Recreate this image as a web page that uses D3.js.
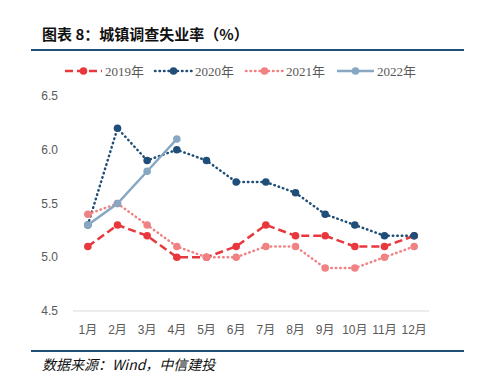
<!DOCTYPE html>
<html>
<head>
<meta charset="utf-8">
<script src="https://cdn.jsdelivr.net/npm/d3@7"></script>
<style>
body { margin: 0; background: #fff; }
</style>
</head>
<body>
<script>
var months = ["1月","2月","3月","4月","5月","6月","7月","8月","9月","10月","11月","12月"];
var y2019 = [5.1, 5.3, 5.2, 5.0, 5.0, 5.1, 5.3, 5.2, 5.2, 5.1, 5.1, 5.2];
var y2020 = [5.3, 6.2, 5.9, 6.0, 5.9, 5.7, 5.7, 5.6, 5.4, 5.3, 5.2, 5.2];
var y2021 = [5.4, 5.5, 5.3, 5.1, 5.0, 5.0, 5.1, 5.1, 4.9, 4.9, 5.0, 5.1];
var y2022 = [5.3, 5.5, 5.8, 6.1];
var yTicks = [4.5, 5.0, 5.5, 6.0, 6.5];

var series = [
	{name: "2019年", values: y2019, color: "#e8383d", width: 2.5, dash: "8,4", dot: false},
	{name: "2020年", values: y2020, color: "#1f4e79", width: 2.5, dash: "0.5,4", dot: true},
	{name: "2021年", values: y2021, color: "#f08284", width: 2.5, dash: "0.5,4", dot: true},
	{name: "2022年", values: y2022, color: "#87a7c3", width: 2.5, dash: null, dot: false}
];

var W = 491, H = 386;
var svg = d3.select("body").append("svg")
	.attr("width", W)
	.attr("height", H);

// title and rules
svg.append("text")
	.attr("x", 42).attr("y", 40)
	.attr("font-family", "Noto Sans CJK SC")
	.attr("font-weight", "bold")
	.attr("font-size", 15)
	.attr("fill", "#111")
	.text("图表 8：城镇调查失业率（%）");

svg.append("line").attr("x1", 31).attr("x2", 464).attr("y1", 50).attr("y2", 50)
	.attr("stroke", "#1f4e79").attr("stroke-width", 2);
svg.append("line").attr("x1", 31).attr("x2", 464).attr("y1", 351).attr("y2", 351)
	.attr("stroke", "#1f4e79").attr("stroke-width", 2);

svg.append("text")
	.attr("x", 42).attr("y", 370)
	.attr("font-family", "Noto Sans CJK SC")
	.attr("font-style", "italic")
	.attr("font-size", 14)
	.attr("fill", "#111")
	.text("数据来源：Wind，中信建投");

var x = d3.scaleBand()
	.domain(months)
	.range([73, 429]);

var y = d3.scaleLinear()
	.domain([4.5, 6.5])
	.range([311, 96]);

// y labels
svg.selectAll(".ylab")
	.data(yTicks)
	.enter().append("text")
	.attr("class", "ylab")
	.attr("x", 58)
	.attr("y", function(d) { return y(d) + 4; })
	.attr("text-anchor", "end")
	.attr("font-family", "Liberation Sans, Arial")
	.attr("font-size", 12)
	.attr("fill", "#595959")
	.text(function(d) { return d.toFixed(1); });

// x axis
svg.append("line")
	.attr("x1", 73).attr("x2", 429)
	.attr("y1", y(4.5)).attr("y2", y(4.5))
	.attr("stroke", "#d9d9d9").attr("stroke-width", 1);

svg.selectAll(".xlab")
	.data(months)
	.enter().append("text")
	.attr("class", "xlab")
	.attr("x", function(d) { return x(d) + x.bandwidth() / 2; })
	.attr("y", 334)
	.attr("text-anchor", "middle")
	.attr("font-family", "Liberation Sans, Arial, Noto Sans CJK SC")
	.attr("font-size", 12)
	.attr("fill", "#595959")
	.text(function(d) { return d; });

var line = d3.line()
	.x(function(d, i) { return x(months[i]) + x.bandwidth() / 2; })
	.y(function(d) { return y(d); });

series.forEach(function(s) {
	var g = svg.append("g");
	g.append("path")
		.attr("d", line(s.values))
		.attr("fill", "none")
		.attr("stroke", s.color)
		.attr("stroke-width", s.width)
		.attr("stroke-dasharray", s.dash)
		.attr("stroke-linecap", s.dot ? "round" : "butt");
	g.selectAll("circle")
		.data(s.values)
		.enter().append("circle")
		.attr("cx", function(d, i) { return x(months[i]) + x.bandwidth() / 2; })
		.attr("cy", function(d) { return y(d); })
		.attr("r", 3.8)
		.attr("fill", s.color);
});

// legend
var legX = [65, 155, 246, 337];
series.forEach(function(s, i) {
	var g = svg.append("g").attr("transform", "translate(" + legX[i] + ",71)");
	g.append("line")
		.attr("x1", 0).attr("x2", 37)
		.attr("stroke", s.color)
		.attr("stroke-width", s.width)
		.attr("stroke-dasharray", s.dash)
		.attr("stroke-linecap", s.dot ? "round" : "butt");
	g.append("circle").attr("cx", 18.5).attr("r", 3.8).attr("fill", s.color);
	g.append("text")
		.attr("x", 40).attr("y", 4.5)
		.attr("font-family", "Liberation Serif, Noto Sans CJK SC")
		.attr("font-size", 13)
		.attr("fill", "#595959")
		.text(s.name);
});
</script>
</body>
</html>
